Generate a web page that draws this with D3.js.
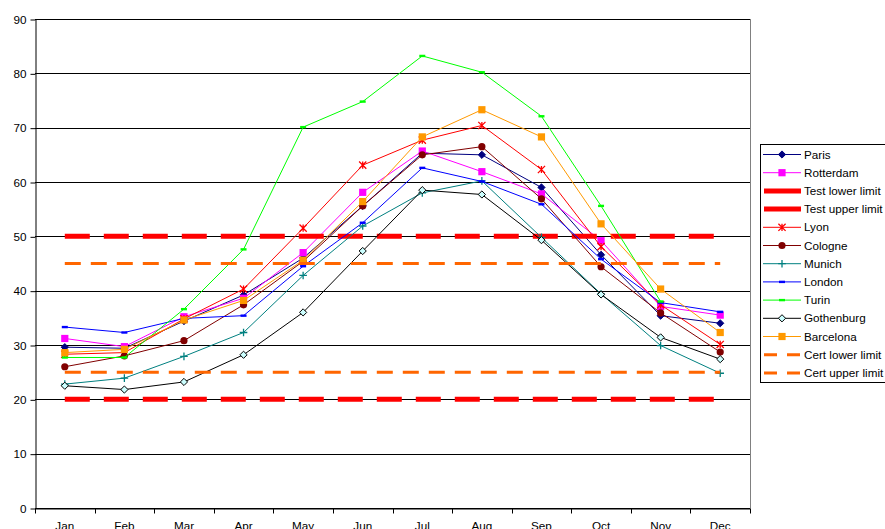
<!DOCTYPE html>
<html>
<head>
<meta charset="utf-8">
<script src="https://cdn.jsdelivr.net/npm/d3@7"></script>
<style>
  body { margin: 0; background: #fff; }
  svg { display: block; font-family: Arial, "Liberation Sans", sans-serif; }
</style>
</head>
<body>
<svg id="chart" width="885" height="529"></svg>
<script>
// chart data
const months = ['Jan', 'Feb', 'Mar', 'Apr', 'May', 'Jun', 'Jul', 'Aug', 'Sep', 'Oct', 'Nov', 'Dec'];
const yTicks = [0, 10, 20, 30, 40, 50, 60, 70, 80, 90];

const paris      = [29.6, 29.4, 34.4, 39.2, 46.0, 55.6, 65.3, 65.0, 59.0, 46.6, 35.4, 34.0];
const rotterdam  = [31.2, 29.7, 35.2, 38.6, 47.0, 58.1, 65.7, 61.9, 57.8, 49.2, 37.1, 35.5];
const lyon       = [28.3, 28.6, 34.8, 40.3, 51.5, 63.1, 67.7, 70.4, 62.3, 48.1, 37.4, 30.1];
const cologne    = [26.0, 28.0, 30.8, 37.4, 45.4, 55.6, 65.0, 66.5, 56.9, 44.4, 35.9, 28.7];
const munich     = [22.8, 23.9, 27.9, 32.3, 42.8, 51.9, 58.0, 60.2, 49.8, 39.4, 29.9, 24.8];
const london     = [33.3, 32.3, 34.9, 35.4, 44.5, 52.5, 62.6, 60.1, 55.9, 45.8, 37.8, 36.1];
const turin      = [27.7, 27.7, 36.6, 47.6, 70.1, 74.8, 83.2, 80.2, 72.1, 55.6, 38.0, null];
const gothenburg = [22.5, 21.8, 23.2, 28.2, 36.0, 47.3, 58.5, 57.7, 49.3, 39.3, 31.4, 27.4];
const barcelona  = [28.6, 29.2, 34.6, 38.2, 45.6, 56.4, 68.3, 73.3, 68.3, 52.3, 40.3, 32.3];

const testLower = 20, testUpper = 50, certLower = 25, certUpper = 45;

// series in legend / drawing order
const series = [
  { name: 'Paris',            values: paris,      color: '#000080', marker: 'diamond', fill: '#000080' },
  { name: 'Rotterdam',        values: rotterdam,  color: '#FF00FF', marker: 'square',  fill: '#FF00FF' },
  { name: 'Test lower limit', limit: testLower,   color: '#FF0000', width: 5, dash: '25,14' },
  { name: 'Test upper limit', limit: testUpper,   color: '#FF0000', width: 5, dash: '25,14' },
  { name: 'Lyon',             values: lyon,       color: '#FF0000', marker: 'star' },
  { name: 'Cologne',          values: cologne,    color: '#800000', marker: 'circle',  fill: '#800000' },
  { name: 'Munich',           values: munich,     color: '#008080', marker: 'plus' },
  { name: 'London',           values: london,     color: '#0000FF', marker: 'dash' },
  { name: 'Turin',            values: turin,      color: '#00FF00', marker: 'dash' },
  { name: 'Gothenburg',       values: gothenburg, color: '#000000', marker: 'diamond', fill: '#CCFFFF' },
  { name: 'Barcelona',        values: barcelona,  color: '#FF9900', marker: 'square',  fill: '#FF9900' },
  { name: 'Cert lower limit', limit: certLower,   color: '#FF6600', width: 3, dash: '16,10' },
  { name: 'Cert upper limit', limit: certUpper,   color: '#FF6600', width: 3, dash: '16,10' }
];

const svg = d3.select('#chart');
const plot = { left: 35, right: 750, top: 19, bottom: 508 };
const fontSize = 11.7;

const x = d3.scaleBand()
  .domain(months)
  .range([plot.left, plot.right]);
const cx = (m) => x(m) + x.bandwidth() / 2;

const y = d3.scaleLinear()
  .domain([0, 90])
  .range([plot.bottom, plot.top]);

// gridlines
svg.append('g')
  .selectAll('line')
  .data(yTicks)
  .enter()
  .append('line')
    .attr('x1', plot.left)
    .attr('x2', plot.right)
    .attr('y1', d => Math.round(y(d)) + 0.5)
    .attr('y2', d => Math.round(y(d)) + 0.5)
    .attr('stroke', '#000')
    .attr('stroke-width', 1);

// right border of the plot area
svg.append('line')
  .attr('x1', plot.right + 0.5).attr('x2', plot.right + 0.5)
  .attr('y1', plot.top).attr('y2', plot.bottom)
  .attr('stroke', '#808080');

// y axis
const yAxis = svg.append('g')
  .attr('transform', `translate(${plot.left + 0.5},0.5)`)
  .call(d3.axisLeft(y).tickValues(yTicks).tickSize(5).tickPadding(4).tickSizeOuter(0));
yAxis.select('.domain').attr('stroke', '#000');
yAxis.selectAll('text').attr('font-size', fontSize).attr('fill', '#000')
  .attr('font-family', 'Arial, "Liberation Sans", sans-serif');

// x axis: labels centered, ticks at category boundaries
const xAxis = svg.append('g')
  .attr('transform', `translate(0,${Math.round(plot.bottom) + 0.5})`)
  .call(d3.axisBottom(x).tickSize(0).tickPadding(13).tickSizeOuter(0));
xAxis.select('.domain').attr('stroke', '#000');
xAxis.selectAll('text').attr('font-size', fontSize).attr('fill', '#000')
  .attr('font-family', 'Arial, "Liberation Sans", sans-serif');
xAxis.selectAll('.boundary')
  .data(months.map(m => x(m)).concat([plot.right]))
  .enter()
  .append('line')
    .attr('class', 'boundary')
    .attr('x1', d => Math.round(d) + 0.5)
    .attr('x2', d => Math.round(d) + 0.5)
    .attr('y1', 0)
    .attr('y2', 5)
    .attr('stroke', '#000');

// markers
function drawMarker(g, type, color, fill, s) {
  if (type === 'diamond') {
    g.append('path').attr('d', `M0,${-s}L${s},0L0,${s}L${-s},0Z`)
      .attr('fill', fill).attr('stroke', color).attr('stroke-width', 1);
  } else if (type === 'square') {
    g.append('rect').attr('x', -s).attr('y', -s).attr('width', 2 * s).attr('height', 2 * s)
      .attr('fill', fill);
  } else if (type === 'circle') {
    g.append('circle').attr('r', s).attr('fill', fill);
  } else if (type === 'star') {
    g.append('path').attr('d', `M${-s},${-s}L${s},${s}M${-s},${s}L${s},${-s}M0,${-s}L0,${s}`)
      .attr('stroke', color).attr('stroke-width', 1.3).attr('fill', 'none');
  } else if (type === 'plus') {
    g.append('path').attr('d', `M${-s},0L${s},0M0,${-s}L0,${s}`)
      .attr('stroke', color).attr('stroke-width', 1.3).attr('fill', 'none');
  } else if (type === 'dash') {
    g.append('rect').attr('x', -3).attr('y', -1.2).attr('width', 6).attr('height', 2.4)
      .attr('fill', color);
  }
}

const line = d3.line()
  .defined(d => d.v != null)
  .x(d => cx(d.m))
  .y(d => y(d.v));

const markerSize = { diamond: 3.6, square: 3.6, circle: 3.6, star: 3.6, plus: 3.8, dash: 3 };

series.forEach(s => {
  const g = svg.append('g');
  if (s.limit != null) {
    g.append('line')
      .attr('x1', cx(months[0]))
      .attr('x2', cx(months[months.length - 1]))
      .attr('y1', y(s.limit))
      .attr('y2', y(s.limit))
      .attr('stroke', s.color)
      .attr('stroke-width', s.width)
      .attr('stroke-dasharray', s.dash);
    return;
  }
  const pts = months.map((m, i) => ({ m, v: s.values[i] }));
  g.append('path')
    .datum(pts)
    .attr('d', line)
    .attr('fill', 'none')
    .attr('stroke', s.color)
    .attr('stroke-width', 1);
  g.selectAll('.pt')
    .data(pts.filter(d => d.v != null))
    .enter()
    .append('g')
      .attr('class', 'pt')
      .attr('transform', d => `translate(${cx(d.m)},${y(d.v)})`)
      .each(function () { drawMarker(d3.select(this), s.marker, s.color, s.fill, markerSize[s.marker]); });
});

// legend
const legend = svg.append('g').attr('transform', 'translate(760,144)');
legend.append('rect')
  .attr('x', 0.5).attr('y', 0.5)
  .attr('width', 140).attr('height', 238)
  .attr('fill', '#fff')
  .attr('stroke', '#000');

const rowH = 18.2;
const item = legend.selectAll('.item')
  .data(series)
  .enter()
  .append('g')
    .attr('class', 'item')
    .attr('transform', (d, i) => `translate(0,${10.5 + i * rowH})`);

item.each(function (s) {
  const g = d3.select(this);
  if (s.limit != null) {
    g.append('line')
      .attr('x1', 4).attr('x2', 41).attr('y1', 0).attr('y2', 0)
      .attr('stroke', s.color)
      .attr('stroke-width', s.width)
      .attr('stroke-dasharray', s.width === 3 ? '13,10' : null);
  } else {
    g.append('line')
      .attr('x1', 3).attr('x2', 41).attr('y1', 0).attr('y2', 0)
      .attr('stroke', s.color).attr('stroke-width', 1);
    const m = g.append('g').attr('transform', 'translate(22,0)');
    drawMarker(m, s.marker, s.color, s.fill, markerSize[s.marker]);
  }
  g.append('text')
    .attr('x', 44)
    .attr('y', 4)
    .attr('font-size', fontSize)
    .attr('fill', '#000')
    .text(s.name);
});
</script>
</body>
</html>
